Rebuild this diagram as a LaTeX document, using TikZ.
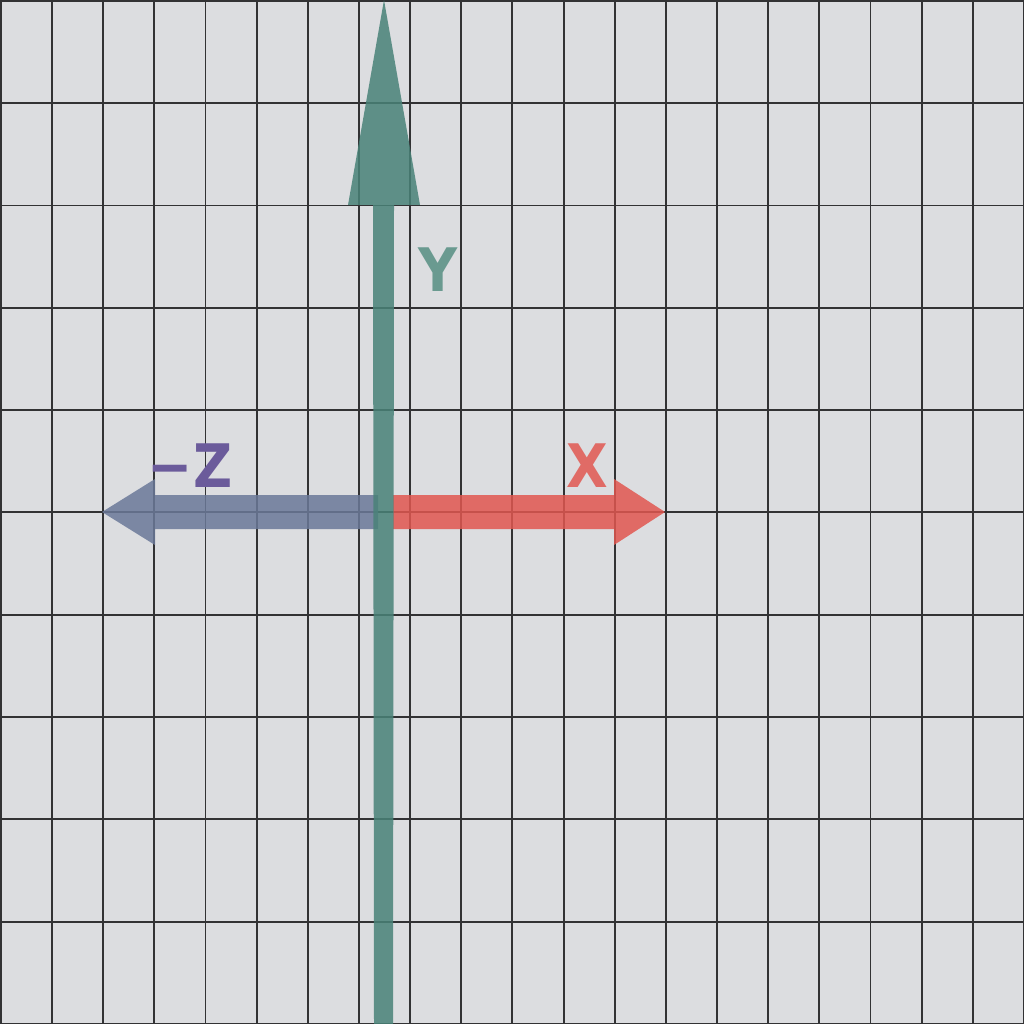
\documentclass[tikz,border=0pt]{standalone}
\usepackage{fontspec}
\setmainfont{DejaVu Sans}
\newfontfamily\labfont{DejaVu Sans Condensed}
\definecolor{bgc}{RGB}{220,221,224}
\definecolor{gridc}{RGB}{50,50,52}
\definecolor{ycol}{RGB}{73,130,120}
\definecolor{xcol}{RGB}{225,87,80}
\definecolor{zcol}{RGB}{107,121,153}
\definecolor{ylab}{RGB}{106,154,144}
\definecolor{xlab}{RGB}{224,107,102}
\definecolor{zlab}{RGB}{107,91,155}
\tikzset{
  gridline/.style={draw=gridc, line width=1.9pt},
  axisfill/.style={fill opacity=0.85},
  lab/.style={font=\labfont\fontsize{60}{60}\selectfont\bfseries, inner sep=0pt}
}
\begin{document}
\begin{tikzpicture}[x=1pt,y=-1pt]
\useasboundingbox (0,0) rectangle (1024,1024);
\fill[bgc] (0,0) rectangle (1024,1024);
% grid
\foreach \i in {0,...,20} {
  \draw[gridline] ({\i*51.15+0.9},0) -- ({\i*51.15+0.9},1024);
}
\foreach \j in {0,...,10} {
  \draw[gridline] (0,{\j*102.3+0.9}) -- (1024,{\j*102.3+0.9});
}
% -Z arrow
\fill[zcol, axisfill] (378,495) -- (155,495) -- (155,479) -- (102,512) -- (155,545) -- (155,529) -- (378,529) -- cycle;
% X arrow
\fill[xcol, axisfill] (393,495) -- (614,495) -- (614,479) -- (665,512) -- (614,545) -- (614,529) -- (393,529) -- cycle;
% Y arrow
\fill[ycol, axisfill] (374,1024) -- (373,205) -- (348,205) -- (384,0) -- (420,205) -- (394,205) -- (393,1024) -- cycle;
% labels
\node[lab, text=ylab] (ly) at (438,270) {Y};
\node[lab, text=xlab] (lx) at (587,466) {X};
\node[lab, text=zlab] (lz) at (190,466) {−Z};
\end{tikzpicture}
\end{document}
